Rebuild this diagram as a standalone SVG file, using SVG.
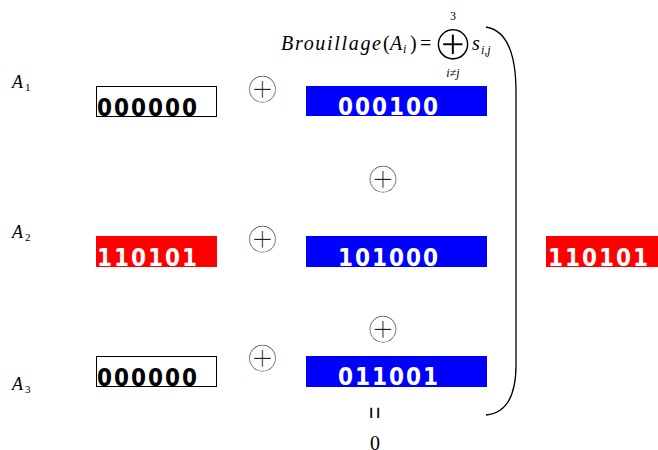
<svg xmlns="http://www.w3.org/2000/svg" width="658" height="450" viewBox="0 0 658 450">
  <style>
    .bits { font-family: "DejaVu Sans Condensed", "DejaVu Sans", sans-serif; font-stretch: condensed; font-weight: bold; font-size: 24px; letter-spacing: 2px; }
    .dark { fill: #000000; }
    .light { fill: #ffffff; }
    .math { font-family: "Liberation Serif", serif; fill: #000000; }
    .it { font-style: italic; }
    .op { font-family: "DejaVu Sans", sans-serif; fill: #222222; stroke: #ffffff; stroke-width: 2.5px; text-anchor: middle; font-size: 44.5px; }
    .bigop { font-family: "DejaVu Sans", sans-serif; fill: #000000; stroke: #ffffff; stroke-width: 2.1px; text-anchor: middle; font-size: 50px; }
    .blank { fill: #ffffff; stroke: #000000; stroke-width: 1; }
    .blue { fill: #0000ff; }
    .red { fill: #ff0000; }
  </style>
  <rect width="658" height="450" fill="#ffffff"/>

  <!-- row labels -->
  <g id="label-a1"><text class="math it" x="12" y="88" font-size="18">A</text><text class="math" x="25" y="91" font-size="11">1</text></g>
  <g id="label-a2"><text class="math it" x="12" y="238" font-size="18">A</text><text class="math" x="25" y="241" font-size="11">2</text></g>
  <g id="label-a3"><text class="math it" x="12" y="390" font-size="18">A</text><text class="math" x="25" y="393" font-size="11">3</text></g>

  <!-- own words of each row -->
  <g id="word-a1">
    <rect class="blank" x="96.5" y="86.5" width="120" height="30"/>
    <text class="bits dark" x="97" y="116">000000</text>
  </g>
  <g id="word-a2">
    <rect class="red" x="96" y="236" width="121" height="31"/>
    <text class="bits light" x="97" y="266">110101</text>
  </g>
  <g id="word-a3">
    <rect class="blank" x="96.5" y="356.5" width="120" height="30"/>
    <text class="bits dark" x="97" y="386">000000</text>
  </g>

  <!-- sequences of each row -->
  <g id="seq-1">
    <rect class="blue" x="306" y="86" width="181" height="30"/>
    <text class="bits light" x="338" y="115">000100</text>
  </g>
  <g id="seq-2">
    <rect class="blue" x="306" y="236" width="181" height="31"/>
    <text class="bits light" x="338" y="266">101000</text>
  </g>
  <g id="seq-3">
    <rect class="blue" x="306" y="356" width="181" height="31"/>
    <text class="bits light" x="338" y="385">011001</text>
  </g>

  <!-- result -->
  <g id="result">
    <rect class="red" x="546" y="236" width="112" height="31"/>
    <text class="bits light" x="548" y="266">110101</text>
  </g>

  <!-- xor operators -->
  <g id="xor-ops">
    <text class="op" x="262.5" y="103.2">⊕</text>
    <text class="op" x="262.5" y="253.2">⊕</text>
    <text class="op" x="262.5" y="372.2">⊕</text>
    <text class="op" x="383" y="192.7">⊕</text>
    <text class="op" x="383" y="343.2">⊕</text>
  </g>

  <!-- formula -->
  <g id="formula">
    <text class="math it" x="281" y="50" font-size="20" textLength="100">Brouillage</text>
    <text class="math" x="383" y="50" font-size="20">(</text>
    <text class="math it" x="390" y="50" font-size="20">A</text>
    <text class="math it" x="403" y="53" font-size="12">i</text>
    <text class="math" x="410" y="50" font-size="20">)</text>
    <text class="math" x="420" y="50" font-size="20">=</text>
    <text class="bigop" x="453" y="59.5">⊕</text>
    <text class="math" x="453" y="20" font-size="12" text-anchor="middle">3</text>
    <text class="math it" x="453" y="77" font-size="12" text-anchor="middle">i≠j</text>
    <text class="math it" x="472" y="50" font-size="20">s</text>
    <text class="math it" x="481" y="54" font-size="12">i,j</text>
  </g>

  <!-- brace closing the sum and equality to zero -->
  <g id="connectors">
    <path d="M486,27 Q516,32 516,92 L516,365 Q516,412 486,415" fill="none" stroke="#000" stroke-width="1.3"/>
  </g>
  <g id="zero">
    <text class="math" x="0" y="0" font-size="22" text-anchor="middle" transform="translate(363,413) rotate(90) scale(1,1.5)">=</text>
    <text class="math" x="375" y="450" font-size="20" text-anchor="middle">0</text>
  </g>
</svg>
